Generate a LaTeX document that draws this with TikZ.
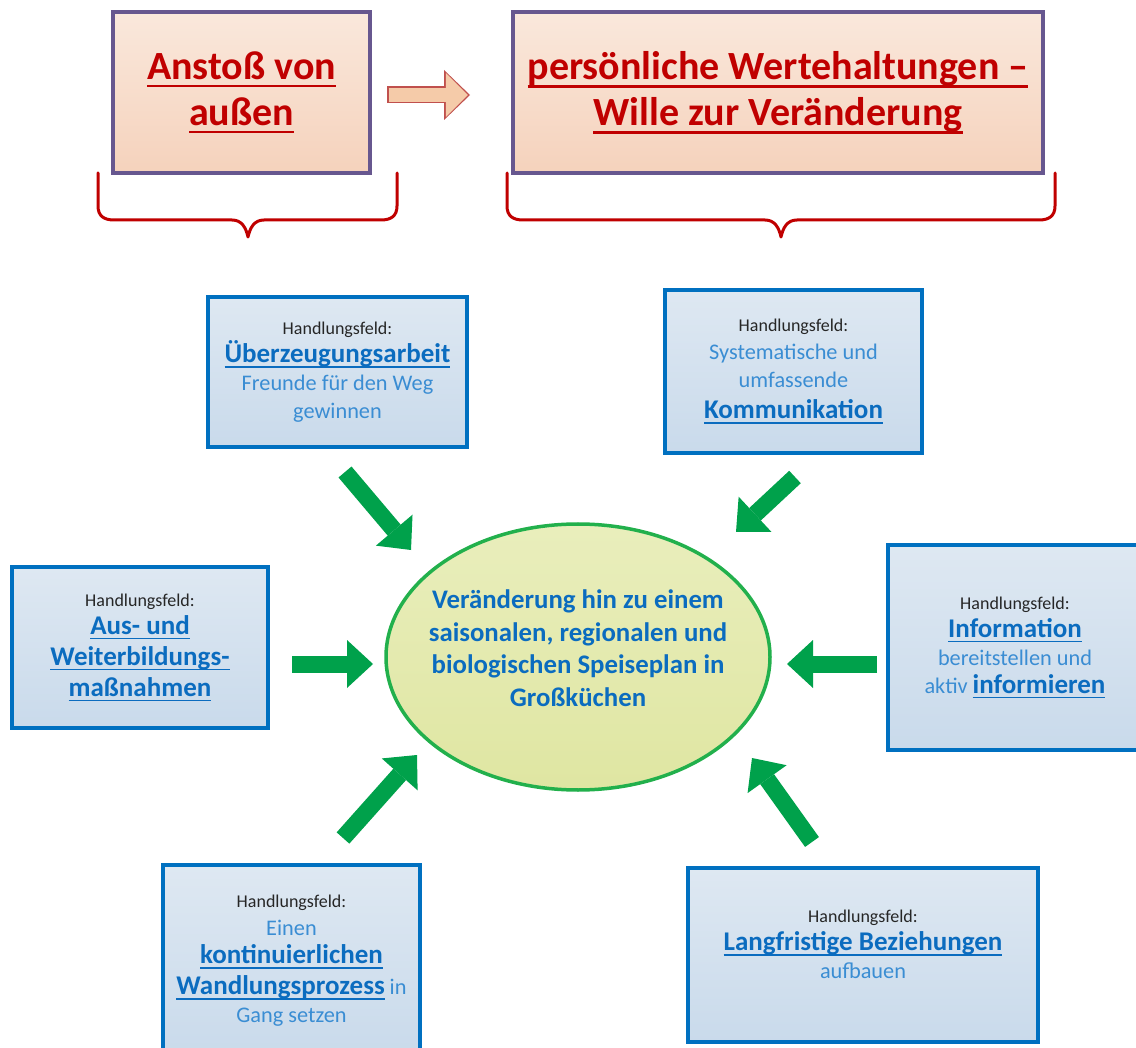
\documentclass[tikz,border=0pt]{standalone}
\usepackage{fontspec}
\setmainfont{Carlito}
\usepackage{xcolor}
\usepackage{tikz}
\usetikzlibrary{shapes.geometric,arrows.meta,shadows}

\definecolor{rahmenlila}{HTML}{67578F}
\definecolor{titelrot}{HTML}{C00000}
\definecolor{pfirsich1}{HTML}{FAE8DC}
\definecolor{pfirsich2}{HTML}{F5D2BC}
\definecolor{pfeilpfirsich}{HTML}{F5CBA9}
\definecolor{pfeilrand}{HTML}{C0504D}
\definecolor{feldblau}{HTML}{0070C0}
\definecolor{feldblau1}{HTML}{DEE8F2}
\definecolor{feldblau2}{HTML}{C9DAEB}
\definecolor{textblau}{HTML}{0B6CBF}
\definecolor{hellblau}{HTML}{3A8DD3}
\definecolor{hfgrau}{HTML}{262626}
\definecolor{pfeilgruen}{HTML}{00A14B}
\definecolor{ellgruen}{HTML}{22B04C}
\definecolor{ellgelb1}{HTML}{E9EEBC}
\definecolor{ellgelb2}{HTML}{DFE6A2}

% unterstrichen, etwas kraeftiger als \underline
\newcommand\unter[1]{\setbox0\hbox{#1}\rlap{\rule[-0.2em]{\wd0}{0.065em}}\box0}
\newcommand\hf{{\fontsize{18}{20}\selectfont\color{hfgrau}Handlungsfeld:}}
\newcommand\feldtitel[1]{{\fontsize{27}{30}\selectfont\bfseries\color{textblau}\unter{#1}}}
\newcommand\feldtext[1]{{\fontsize{22.3}{25}\selectfont\color{hellblau}#1}}

\tikzset{
  kopf/.style={draw=rahmenlila, line width=3.5pt, top color=pfirsich1, bottom color=pfirsich2,
    align=center, text=titelrot, font=\fontsize{40}{46}\selectfont\bfseries,
    drop shadow={opacity=0.2, shadow xshift=2pt, shadow yshift=-2pt}},
  feld/.style={draw=feldblau, line width=3.5pt, top color=feldblau1, bottom color=feldblau2,
    align=center, font=\fontsize{22}{28}\selectfont,
    drop shadow={opacity=0.2, shadow xshift=2pt, shadow yshift=-2pt}},
  ziel/.style={ellipse, draw=ellgruen, line width=3.5pt, top color=ellgelb1, bottom color=ellgelb2,
    minimum width=384pt, minimum height=266pt, inner sep=0pt},
  zieltext/.style={align=center, text=textblau, font=\fontsize{26.8}{32.5}\selectfont\bfseries},
  gpfeil/.style={pfeilgruen, line width=17pt, -{Triangle[length=26pt,width=48pt,line width=0pt]}},
  klammer/.style={titelrot, line width=3pt, line cap=round, line join=round}
}

\begin{document}
\begin{tikzpicture}[x=1pt, y=-1pt]
            \useasboundingbox (0,0) rectangle (1136,1048);
            \clip (0,0) rectangle (1136,1048);
            \fill[white] (0,0) rectangle (1136,1048);

            % top row
            \node[kopf, minimum width=257pt, minimum height=161pt] (anstoss) at (241.5,92.5) {\unter{Anstoß von}\\\unter{außen}};
            \node[kopf, minimum width=530pt, minimum height=161pt] (werte) at (778,92.5) {\unter{persönliche Wertehaltungen –}\\\unter{Wille zur Veränderung}};

            \coordinate (pfeilA) at (387,95);
            \coordinate (pfeilB) at (470,95);
            \draw[pfeilrand, line width=17pt, -{Triangle[length=26pt,width=50pt,line width=0pt]}] (pfeilA) -- (pfeilB); % anstoss -> werte
            \draw[pfeilpfirsich, line width=14pt, -{Triangle[length=22pt,width=44pt,line width=0pt]}, shorten <=1.5pt, shorten >=2.2pt] (pfeilA) -- (pfeilB);

            \draw[klammer] (98,173) -- (98,206) .. controls (98,216) and (104,220) .. (114,220) -- (232,220) .. controls (242,220) and (246,228) .. (248,237) .. controls (250,228) and (254,220) .. (264,220) -- (381,220) .. controls (391,220) and (397,216) .. (397,206) -- (397,173); % klammer anstoss
            \draw[klammer] (507,173) -- (507,206) .. controls (507,216) and (513,220) .. (523,220) -- (765,220) .. controls (775,220) and (779,228) .. (781,237) .. controls (783,228) and (787,220) .. (797,220) -- (1039,220) .. controls (1049,220) and (1055,216) .. (1055,206) -- (1055,173); % klammer werte

            % middle
            \node[ziel] (ziel) at (578,657) {};
            \node[zieltext] (zieltext) at (578,648) {Veränderung hin zu einem\\saisonalen, regionalen und\\biologischen Speiseplan in\\Großküchen};

            % handlungsfelder
            \node[feld, minimum width=259pt, minimum height=150pt] (ueberzeugung) at (337.5,372) {\hf\\\feldtitel{Überzeugungsarbeit}\\\feldtext{Freunde für den Weg}\\\feldtext{gewinnen}};
            \node[feld, minimum width=257pt, minimum height=163pt] (kommunikation) at (793.5,371.5) {\hf\\\feldtext{Systematische und}\\\feldtext{umfassende}\\[3pt]\feldtitel{Kommunikation}};
            \node[feld, minimum width=256pt, minimum height=161pt] (ausbildung) at (140,647.5) {\hf\\\feldtitel{Aus- und}\\[3pt]\feldtitel{Weiterbildungs-}\\[3pt]\feldtitel{maßnahmen}};
            \node[feld, minimum width=254pt, minimum height=205pt] (information) at (1015,647.5) {\hf\\\feldtitel{Information}\\\feldtext{bereitstellen und}\\\feldtext{aktiv} \feldtitel{informieren}};
            \node[feld, minimum width=257pt, minimum height=191pt] (wandlung) at (291.5,960.5) {\hf\\\feldtext{Einen}\\\feldtitel{kontinuierlichen}\\[3pt]\feldtitel{Wandlungsprozess} \feldtext{in}\\\feldtext{Gang setzen}};
            \node[feld, minimum width=350pt, minimum height=174pt, text depth=22pt] (beziehung) at (863,955) {\hf\\\feldtitel{Langfristige Beziehungen}\\\feldtext{aufbauen}};

            % gruene pfeile
            \coordinate (g1a) at (345,472);  \coordinate (g1b) at (411,550);
            \coordinate (g2a) at (795,477);  \coordinate (g2b) at (736,532);
            \coordinate (g3a) at (292,664);  \coordinate (g3b) at (373,664);
            \coordinate (g4a) at (877,664);  \coordinate (g4b) at (787,664);
            \coordinate (g5a) at (343,838);  \coordinate (g5b) at (417,755);
            \coordinate (g6a) at (812,842);  \coordinate (g6b) at (752,758);

            \draw[gpfeil] (g1a) -- (g1b); % ueberzeugung
            \draw[gpfeil] (g2a) -- (g2b); % kommunikation
            \draw[gpfeil] (g3a) -- (g3b); % ausbildung
            \draw[gpfeil] (g4a) -- (g4b); % information
            \draw[gpfeil] (g5a) -- (g5b); % wandlung
            \draw[gpfeil] (g6a) -- (g6b); % beziehung
        \end{tikzpicture}
\end{document}
